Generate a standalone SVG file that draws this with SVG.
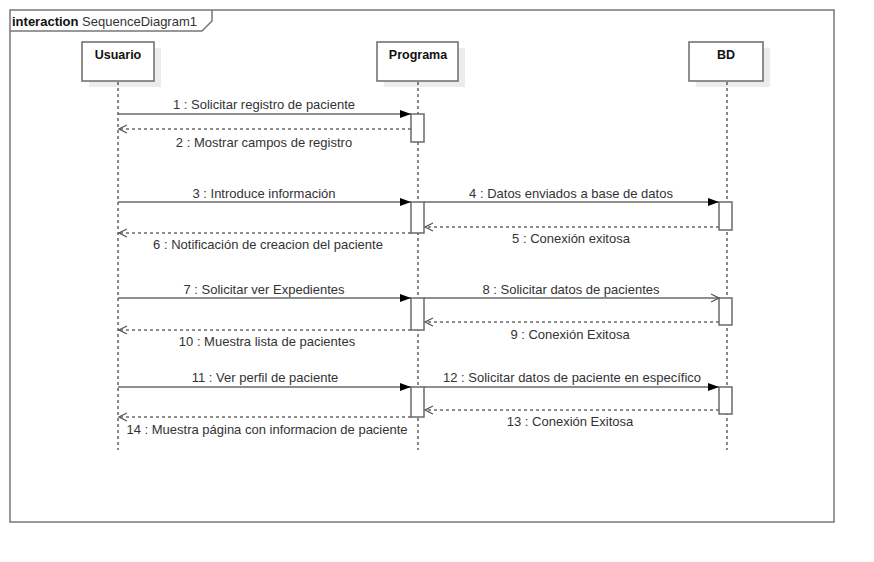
<svg xmlns="http://www.w3.org/2000/svg" width="874" height="562" viewBox="0 0 874 562">
<defs>
<style>
text{font-family:"Liberation Sans",Arial,sans-serif;font-size:13px;fill:#333}
.hd{font-weight:bold;font-size:12.5px;fill:#111}
.lbl{text-anchor:middle}
.frame{fill:#fff;stroke:#777;stroke-width:1.5}
.head{fill:#fff;stroke:#6a6a6a;stroke-width:1.5}
.shadow{fill:#ececec}
.life{stroke:#111;stroke-width:1;stroke-dasharray:3,3;fill:none}
.act{fill:#fff;stroke:#6a6a6a;stroke-width:1.5}
.msg{stroke:#6a6a6a;stroke-width:1.5;fill:none}
.ret{stroke:#6a6a6a;stroke-width:1.5;stroke-dasharray:3,3;fill:none}
</style>
<marker id="filled" viewBox="0 0 11 8" refX="11" refY="4" markerWidth="11" markerHeight="8" markerUnits="userSpaceOnUse" orient="auto">
<path d="M0,0 L11,4 L0,8 Z" fill="#000"/>
</marker>
<marker id="open" viewBox="0 0 10 10" refX="9" refY="5" markerWidth="10" markerHeight="10" markerUnits="userSpaceOnUse" orient="auto">
<path d="M1,1 L9,5 L1,9" fill="none" stroke="#555" stroke-width="1.2"/>
</marker>
</defs>
<rect width="874" height="562" fill="#fff"/>
<g id="frame">
<rect class="frame" x="10" y="10" width="824" height="512"/>
<path d="M10,31 L202,31 L212,21 L212,10" fill="none" stroke="#777" stroke-width="1.5"/>
<text x="12" y="26" font-size="13.5"><tspan font-weight="bold" fill="#111">interaction</tspan> SequenceDiagram1</text>
</g>
<g id="Usuario">
<rect class="shadow" x="89" y="48" width="72" height="39"/>
<rect class="head" x="82" y="42" width="72" height="39"/>
<text class="hd lbl" x="118" y="59">Usuario</text>
<line class="life" x1="118" y1="82" x2="118" y2="450"/>
</g>
<g id="Programa">
<rect class="shadow" x="384" y="48" width="81" height="39"/>
<rect class="head" x="377" y="42" width="81" height="39"/>
<text class="hd lbl" x="418" y="59">Programa</text>
<line class="life" x1="418" y1="82" x2="418" y2="450"/>
<rect class="act" x="411" y="114" width="13" height="28"/>
<rect class="act" x="411" y="202" width="13" height="31"/>
<rect class="act" x="411" y="298" width="13" height="32"/>
<rect class="act" x="411" y="387" width="13" height="30"/>
</g>
<g id="BD">
<rect class="shadow" x="696" y="48" width="74" height="39"/>
<rect class="head" x="689" y="42" width="74" height="39"/>
<text class="hd lbl" x="726" y="59">BD</text>
<line class="life" x1="727" y1="82" x2="727" y2="450"/>
<rect class="act" x="719" y="202" width="13" height="28"/>
<rect class="act" x="719" y="298" width="13" height="27"/>
<rect class="act" x="719" y="387" width="13" height="27"/>
</g>
<g id="connectors">
<line class="msg" x1="118" y1="114" x2="411" y2="114" marker-end="url(#filled)"/>
<text class="lbl" x="264" y="109">1 : Solicitar registro de paciente</text>
<line class="ret" x1="411" y1="129" x2="119" y2="129" marker-end="url(#open)"/>
<text class="lbl" x="264" y="147">2 : Mostrar campos de registro</text>

<line class="msg" x1="118" y1="202" x2="411" y2="202" marker-end="url(#filled)"/>
<text class="lbl" x="264" y="198">3 : Introduce información</text>
<line class="msg" x1="424" y1="202" x2="719" y2="202" marker-end="url(#filled)"/>
<text class="lbl" x="571" y="198">4 : Datos enviados a base de datos</text>
<line class="ret" x1="719" y1="227" x2="425" y2="227" marker-end="url(#open)"/>
<text class="lbl" x="571" y="243">5 : Conexión exitosa</text>
<line class="ret" x1="411" y1="233" x2="119" y2="233" marker-end="url(#open)"/>
<text class="lbl" x="268" y="249">6 : Notificación de creacion del paciente</text>

<line class="msg" x1="118" y1="298" x2="411" y2="298" marker-end="url(#filled)"/>
<text class="lbl" x="264" y="294">7 : Solicitar ver Expedientes</text>
<line class="msg" x1="424" y1="298" x2="719" y2="298" marker-end="url(#open)"/>
<text class="lbl" x="571" y="294">8 : Solicitar datos de pacientes</text>
<line class="ret" x1="719" y1="322" x2="425" y2="322" marker-end="url(#open)"/>
<text class="lbl" x="570" y="339">9 : Conexión Exitosa</text>
<line class="ret" x1="411" y1="330" x2="119" y2="330" marker-end="url(#open)"/>
<text class="lbl" x="267" y="346">10 : Muestra lista de pacientes</text>

<line class="msg" x1="118" y1="387" x2="411" y2="387" marker-end="url(#filled)"/>
<text class="lbl" x="265" y="382">11 : Ver perfil de paciente</text>
<line class="msg" x1="424" y1="387" x2="719" y2="387" marker-end="url(#filled)"/>
<text class="lbl" x="572" y="382">12 : Solicitar datos de paciente en específico</text>
<line class="ret" x1="719" y1="410" x2="425" y2="410" marker-end="url(#open)"/>
<text class="lbl" x="570" y="426">13 : Conexión Exitosa</text>
<line class="ret" x1="411" y1="417" x2="119" y2="417" marker-end="url(#open)"/>
<text class="lbl" x="267" y="434">14 : Muestra página con informacion de paciente</text>
</g>
</svg>
